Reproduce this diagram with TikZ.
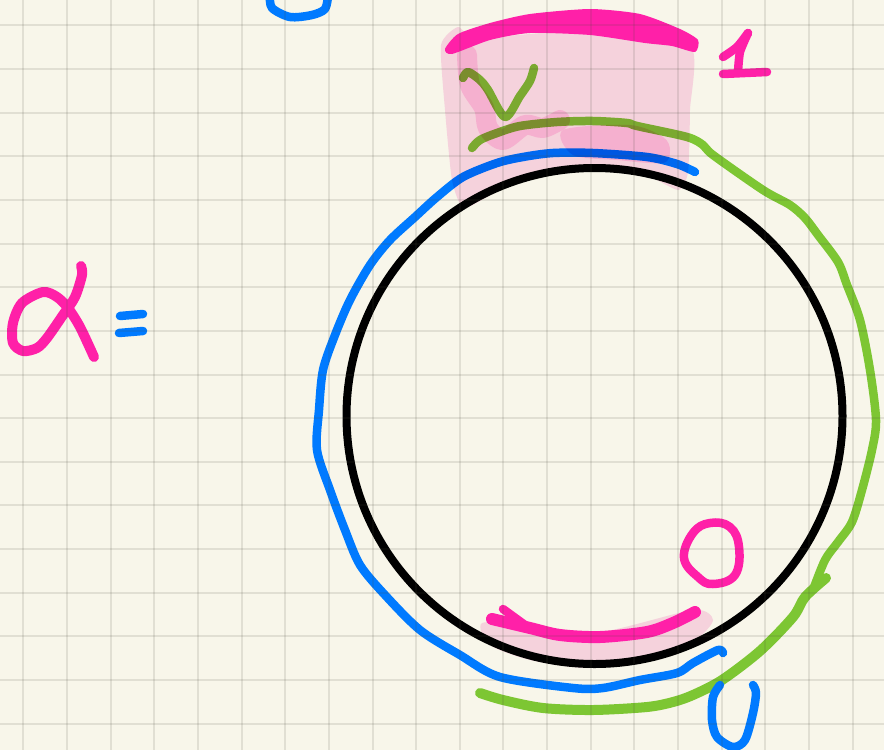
\documentclass[tikz,border=0pt]{standalone}
\usepackage{tikz}
\definecolor{paperBg}{HTML}{F8F6EA}
\definecolor{inkPink}{HTML}{FF20A8}
\definecolor{inkBlue}{HTML}{007AFF}
\definecolor{inkGreen}{HTML}{7DC633}
\definecolor{washPink}{HTML}{FCDAF0}
\definecolor{washLump}{HTML}{FFD6F0}
\definecolor{gridInk}{HTML}{4A4A3A}
\tikzset{
  % felt-tip strokes
  pen/.style={line width=#1, line cap=round, line join=round},
  pen/.default=8.5pt,
  gridline/.style={line width=2pt, gridInk, opacity=0.13},
  % highlighter layer, multiplied onto the strokes beneath it
  wash/.style={fill=washPink, blend mode=multiply},
  lump/.style={washLump, blend mode=multiply, line cap=round, line join=round},
}

\begin{document}
\begin{tikzpicture}[x=1pt, y=-1pt]
\useasboundingbox (0,0) rectangle (884,750);
\clip (0,0) rectangle (884,750);
\fill[paperBg] (0,0) rectangle (884,750);

% ── green and blue strokes round the circle ──
\draw[pen, inkGreen] plot[smooth, tension=.5] coordinates {
  (463,78) (468,72) (480,80) (488,90) (505,117) (520,96) (530,81) (534,68)};
\draw[pen, inkGreen] plot[smooth, tension=.5] coordinates {
  (472,148) (480,140) (497,133) (520,126) (557,122) (593,121) (627,123) (637,126)
  (687,137) (703,145) (713,155) (763,190) (790,205) (805,218) (818,235) (838,262)
  (847,285) (860,320) (870,370) (876,420) (872,450) (862,490) (852,522) (838,542)
  (825,560) (813,590)};
\draw[pen=10pt, inkGreen] plot[smooth, tension=.5] coordinates {
  (826,578) (805,597) (793,617) (760,651) (722,680) (693,695) (673,702) (647,707)
  (593,710) (543,708) (503,700) (480,693)};
\draw[pen, inkBlue] plot[smooth, tension=.5] coordinates {
  (695,172) (677,164) (647,157) (593,153) (553,153) (523,157) (497,163) (463,177)
  (437,197) (415,217) (390,240) (370,265) (350,300) (335,335) (323,370) (319,410)
  (317,450) (330,490) (345,530) (360,565) (385,595) (420,630) (460,655) (500,677)
  (573,688) (603,688) (640,680) (677,673) (693,663) (718,650) (723,653)};

% ── pink wash ──
\fill[wash] plot[smooth cycle, tension=.35] coordinates {
  (441,45) (458,27) (478,38) (590,30) (690,45) (690,110) (688,172) (678,190)
  (640,172) (594,168) (550,172) (500,190) (464,208) (452,180) (445,110)};
\fill[wash] plot[smooth cycle, tension=.45] coordinates {
  (482,623) (530,625) (600,632) (693,610) (713,620) (695,640) (650,657)
  (590,668) (530,660) (490,645)};
\draw[lump, line width=20pt] plot[smooth, tension=.5] coordinates {
  (467,55) (470,85) (484,108) (488,128) (503,140) (525,125) (543,128) (560,120)};
\fill[lump] plot[smooth cycle, tension=.5] coordinates {
  (563,130) (630,125) (663,137) (670,150) (663,163) (617,160) (573,155)};

% ── the circle ──
\draw[line width=8pt, black] (594.5,416) circle[radius=248];

% ── pink marks: top bar, 1, bottom bar, 0, alpha ──
\fill[inkPink] plot[smooth cycle, tension=.4] coordinates {
  (445,49) (458,34) (490,23) (530,14) (590,9) (640,14) (680,29) (698,40) (695,52)
  (672,46) (645,43) (590,35) (530,33) (490,40) (452,54)};
\draw[pen, inkPink] plot[smooth, tension=.4] coordinates {(723,57) (737,47) (748,33)};
\draw[pen, inkPink] plot[smooth, tension=.4] coordinates {(748,33) (740,52) (738,72)};
\draw[pen, inkPink] (723,74) -- (767,72);
\draw[pen=12pt, inkPink] plot[smooth, tension=.5] coordinates {
  (492,619) (530,628) (560,635) (600,637) (647,632) (673,623) (695,612)};
\draw[pen, inkPink] (503,609) -- (525,625);
\draw[pen, inkPink] plot[smooth cycle, tension=.7] coordinates {
  (693,533) (710,523) (730,527) (739,547) (735,575) (713,584) (698,577) (684,558)};
\draw[pen=10pt, inkPink] plot[smooth, tension=.5] coordinates {
  (81,266) (82,275) (75,297) (63,315) (47,338) (37,348) (23,351) (13,343) (13,323)
  (22,303) (43,292) (57,297) (68,308) (80,327) (94,357)};

% ── blue marks: equals, U, scrap at the top edge ──
\draw[pen, inkBlue] (120,316) -- (143,314);
\draw[pen, inkBlue] (119,333) -- (143,331);
\draw[pen, inkBlue] plot[smooth, tension=.5] coordinates {
  (720,685) (713,697) (712,720) (717,737) (733,747) (745,740) (753,713) (756,693) (753,685)};
\draw[pen, inkBlue] plot[smooth, tension=.5] coordinates {
  (270,-4) (272,8) (290,17) (312,15) (325,9) (328,-4)};

% ── paper grid ──
\foreach \k in {0,...,19}
  \draw[gridline] ({23.3+43.65*\k},0) -- ++(0,750);
\foreach \k in {0,...,16}
  \draw[gridline] (0,{25.3+43.65*\k}) -- ++(884,0);

\end{tikzpicture}
\end{document}
